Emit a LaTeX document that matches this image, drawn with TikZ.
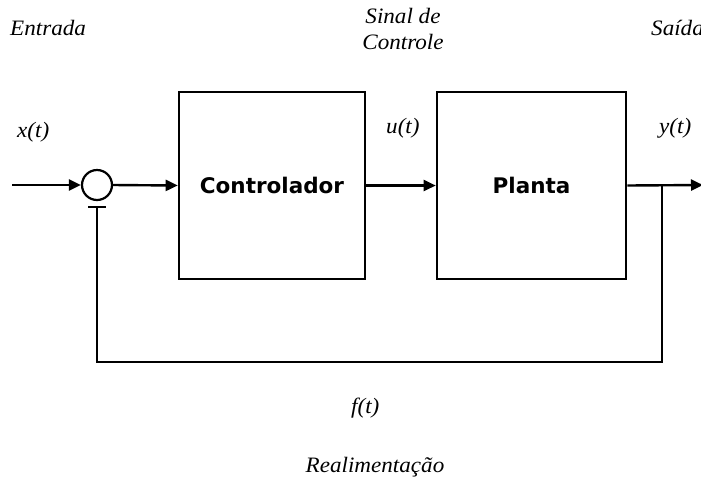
\documentclass[tikz,border=0pt]{standalone}
\usepackage{fontspec}
\setmainfont{Liberation Serif}
\newfontfamily\lblfont[FakeStretch=1.05]{Liberation Serif}
\newfontfamily\boxfont{DejaVu Sans}
\usetikzlibrary{arrows.meta}
\tikzset{
  wire/.style={line width=2.4pt, draw=black},
  arr/.style={wire, -{Triangle[length=12pt,width=11pt]}},
  blockbox/.style={draw=black, line width=2.6pt, minimum width=#1, minimum height=187pt, inner sep=0pt,
    font=\boxfont\bfseries\fontsize{21.5}{25}\selectfont},
  lbl/.style={font=\lblfont\itshape\fontsize{22}{26}\selectfont, inner sep=0pt, anchor=base west},
  lblc/.style={font=\lblfont\itshape\fontsize{22}{26}\selectfont, inner sep=0pt, anchor=base}
}
\begin{document}
\begin{tikzpicture}[x=1pt,y=-1pt]
  \useasboundingbox (0,0) rectangle (701,491);
  \fill[white] (0,0) rectangle (701,491);

  % blocks and summing junction
  \node[blockbox=186pt] (ctrl) at (272,185.5) {Controlador};
  \node[blockbox=189pt] (planta) at (531.5,185.5) {Planta};
  \node[circle, draw=black, line width=2.2pt, minimum size=30pt, inner sep=0pt] (sum) at (97,185) {};

  % signal path
  \coordinate (in) at (12,185);
  \coordinate (out) at (703,185);
  \coordinate (br) at (662,185);
  \coordinate (c1) at (662,362);
  \coordinate (c2) at (97,362);
  \coordinate (tb) at (97,207);
  \coordinate (tbl) at (88,207);
  \coordinate (tbr) at (106,207);

  \draw[arr] (in) -- (sum.west);
  \draw[arr] (sum.east) -- (ctrl.west);
  \draw[arr] (ctrl.east) -- (planta.west);
  \draw[arr] (planta.east) -- (out);
  \draw[wire] (br) -- (c1) -- (c2) -- (tb);
  \draw[wire] (tbl) -- (tbr);

  % labels
  \node[lbl] (entrada) at (10,35) {Entrada};
  \node[lblc] (sinal) at (403,23) {Sinal de};
  \node[lblc] (controle) at (403,49) {Controle};
  \node[lbl] (saida) at (651,35) {Saída};
  \node[lbl] (xt) at (17,137) {x(t)};
  \node[lbl] (ut) at (386,133) {u(t)};
  \node[lbl] (yt) at (659,133) {y(t)};
  \node[lbl] (ft) at (351,413) {f(t)};
  \node[lblc] (realim) at (375,472) {Realimentação};
\end{tikzpicture}
\end{document}
